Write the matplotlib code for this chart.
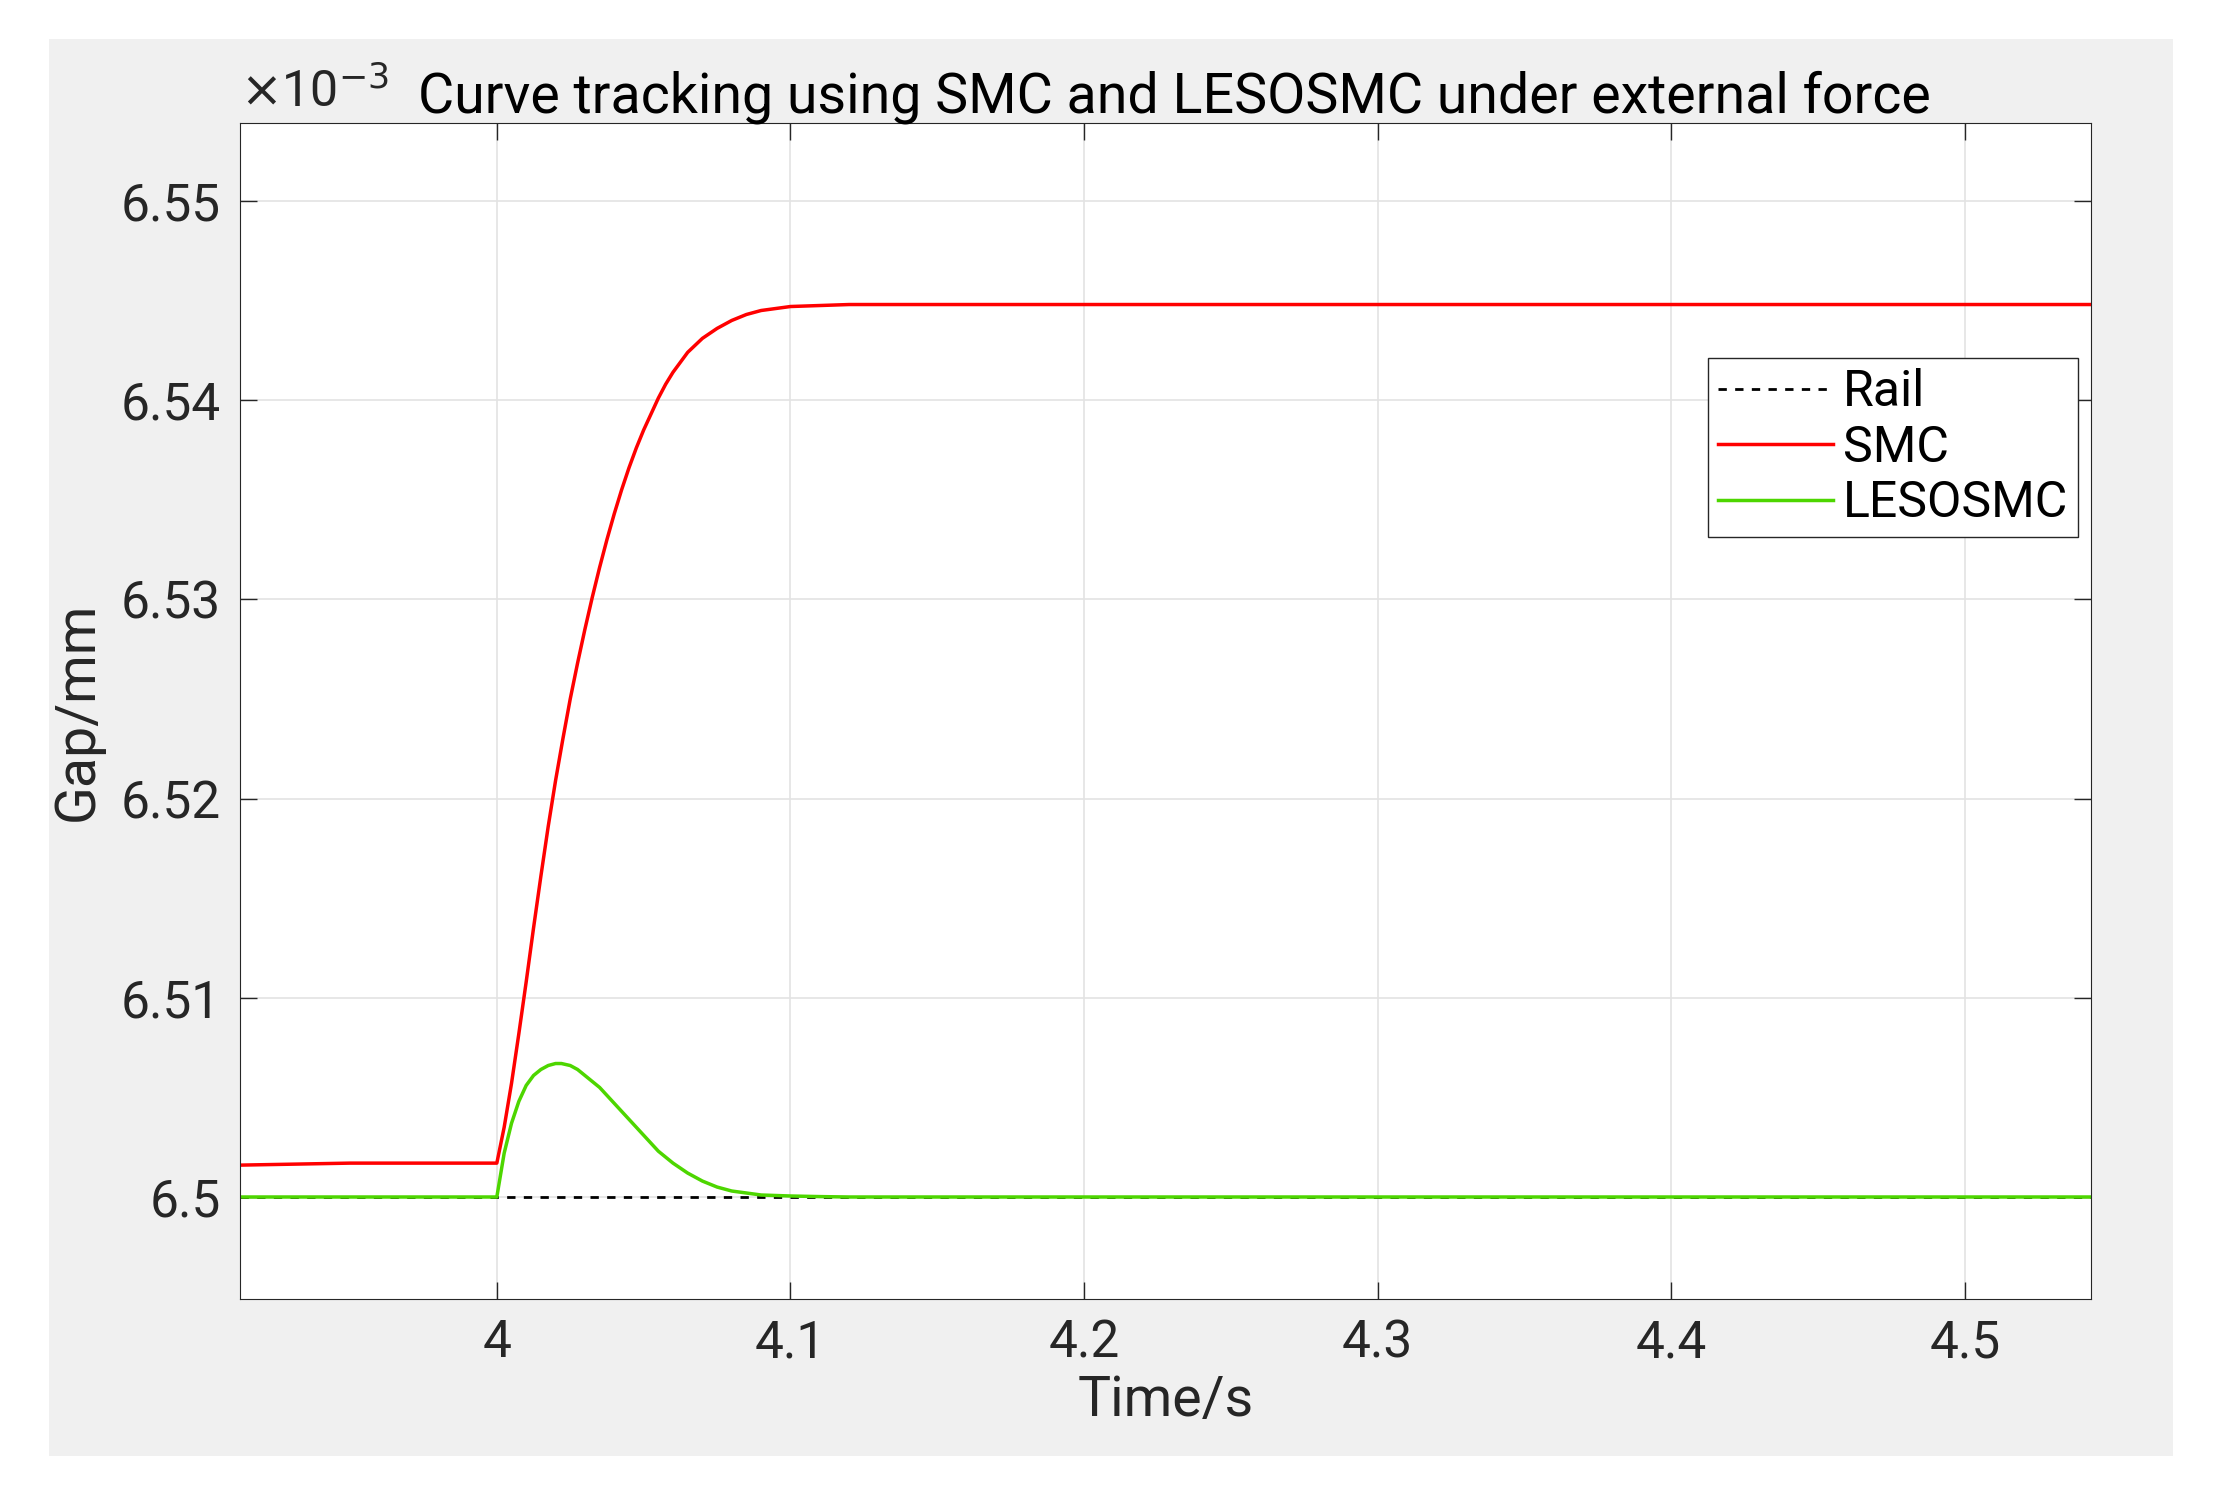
import matplotlib
matplotlib.use("Agg")
import matplotlib.pyplot as plt
from matplotlib.patches import Rectangle

rail_t = [3.9125, 4.543]
rail_y = [6.5, 6.5]

smc_t = [3.9125, 3.95, 4.0, 4.0025, 4.005, 4.0075, 4.01, 4.0125, 4.015, 4.0175, 4.02, 4.0225,
         4.025, 4.0275, 4.03, 4.0325, 4.035, 4.0375, 4.04, 4.0425, 4.045, 4.0475, 4.05,
         4.0525, 4.055, 4.0575, 4.06, 4.065, 4.07, 4.075, 4.08, 4.085, 4.09, 4.095, 4.1,
         4.11, 4.12, 4.14, 4.543]
smc_y = [6.5016, 6.5017, 6.5017, 6.5035, 6.5057, 6.5082, 6.5108, 6.5135, 6.5161, 6.5186,
         6.5209, 6.5230, 6.5250, 6.5268, 6.5285, 6.5301, 6.5316, 6.5330, 6.5343, 6.5355,
         6.5366, 6.5376, 6.5385, 6.5393, 6.5401, 6.5408, 6.5414, 6.5424, 6.5431, 6.5436,
         6.5440, 6.5443, 6.5445, 6.5446, 6.5447, 6.54475, 6.5448, 6.5448, 6.5448]

leso_t = [3.9125, 4.0, 4.0025, 4.005, 4.0075, 4.01, 4.0125, 4.015, 4.0175, 4.02, 4.022,
          4.025, 4.0275, 4.03, 4.035, 4.04, 4.045, 4.05, 4.055, 4.06, 4.065, 4.07, 4.075,
          4.08, 4.085, 4.09, 4.1, 4.11, 4.12, 4.13, 4.543]
leso_y = [6.5, 6.5, 6.5022, 6.5037, 6.5048, 6.5056, 6.5061, 6.5064, 6.5066, 6.5067, 6.5067,
          6.5066, 6.5064, 6.5061, 6.5055, 6.5047, 6.5039, 6.5031, 6.5023, 6.5017, 6.5012,
          6.5008, 6.5005, 6.5003, 6.5002, 6.5001, 6.50005, 6.50002, 6.5, 6.5, 6.5]

xticks = [4.0, 4.1, 4.2, 4.3, 4.4, 4.5]
xticklabels = ["4", "4.1", "4.2", "4.3", "4.4", "4.5"]
yticks = [6.5, 6.51, 6.52, 6.53, 6.54, 6.55]
yticklabels = ["6.5", "6.51", "6.52", "6.53", "6.54", "6.55"]

plt.rcParams['font.family'] = ['Roboto', 'DejaVu Sans']
fig = plt.figure(figsize=(22.13, 15.03), dpi=100)
fig.patches.append(Rectangle((0.022, 0.031), 0.96, 0.943, transform=fig.transFigure,
                             facecolor='#f0f0f0', edgecolor='none', zorder=-10))
ax = fig.add_axes([0.1084, 0.136, 0.8366, 0.782])
ax.plot(rail_t, rail_y, color='black', ls=(0, (3, 3)), lw=2, label='Rail')
ax.plot(smc_t, smc_y, color='#ff0000', lw=2.5, label='SMC')
ax.plot(leso_t, leso_y, color='#4dd600', lw=2.5, label='LESOSMC')
ax.set_xlim(3.9125, 4.543)
ax.set_ylim(6.4949, 6.5539)
ax.set_xticks(xticks)
ax.set_xticklabels(xticklabels)
ax.set_yticks(yticks)
ax.set_yticklabels(yticklabels)
ax.grid(True, color='#e3e3e3', lw=1.2)
ax.tick_params(direction='in', length=12, width=1, labelsize=37, colors='#262626',
               top=True, right=True, pad=14)
for s in ax.spines.values():
    s.set_color('#262626')
ax.set_xlabel('Time/s', fontsize=40, color='#262626', labelpad=4)
ax.set_ylabel('Gap/mm', fontsize=40, color='#262626', labelpad=12)
ax.set_title('Curve tracking using SMC and LESOSMC under external force', fontsize=40,
             color='black', pad=8, x=0.505)
ax.text(0.0, 1.005, r'$\times$10$^{-3}$', transform=ax.transAxes, fontsize=36,
        color='#262626', va='bottom', ha='left')
leg = ax.legend(loc='upper left', bbox_to_anchor=(0.793, 0.80), fontsize=36,
                fancybox=False, framealpha=1, edgecolor='#262626', handlelength=2.3,
                handletextpad=0.2, borderpad=0.2, labelspacing=0.15, borderaxespad=0)
fig.savefig('out.png', dpi=100)
